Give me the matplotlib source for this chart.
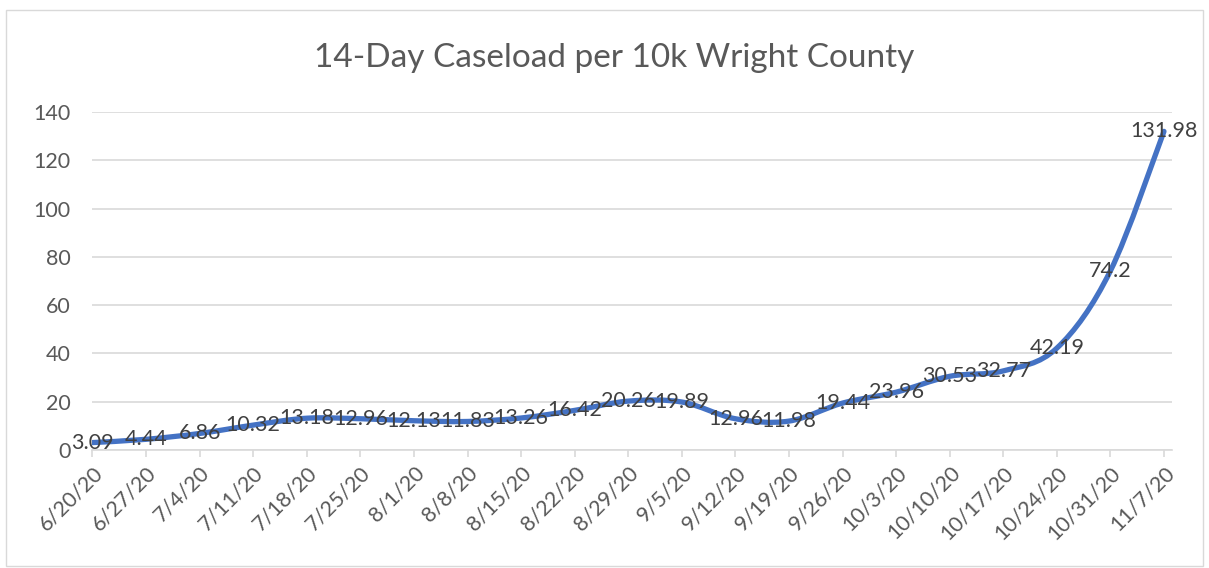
import matplotlib
matplotlib.use("Agg")
import matplotlib.pyplot as plt
import numpy as np
from matplotlib.path import Path
from matplotlib.patches import PathPatch, Rectangle

# 14-day caseload per 10k, Wright County
dates = ['6/20/20', '6/27/20', '7/4/20', '7/11/20', '7/18/20', '7/25/20', '8/1/20',
         '8/8/20', '8/15/20', '8/22/20', '8/29/20', '9/5/20', '9/12/20', '9/19/20',
         '9/26/20', '10/3/20', '10/10/20', '10/17/20', '10/24/20', '10/31/20', '11/7/20']
caseload = [3.09, 4.44, 6.86, 10.32, 13.18, 12.96, 12.13, 11.83, 13.26, 16.42, 20.26,
            19.89, 12.96, 11.98, 19.44, 23.96, 30.53, 32.77, 42.19, 74.2, 131.98]
y_ticks = [0, 20, 40, 60, 80, 100, 120, 140]

plt.rcParams['font.family'] = ['Lato', 'DejaVu Sans']

fig = plt.figure(figsize=(12.09, 5.68), dpi=100)
ax = fig.add_axes([0.0765, 0.2077, 0.9694 - 0.0765, 0.8028 - 0.2077])

# smoothed line like Excel: cubic bezier segments through every point
x = np.arange(len(caseload), dtype=float)
y = np.array(caseload)
verts = [(x[0], y[0])]
codes = [Path.MOVETO]
for i in range(len(x) - 1):
    p0 = np.array([x[max(i - 1, 0)], y[max(i - 1, 0)]])
    p1 = np.array([x[i], y[i]])
    p2 = np.array([x[i + 1], y[i + 1]])
    p3 = np.array([x[min(i + 2, len(x) - 1)], y[min(i + 2, len(x) - 1)]])
    c1 = p1 + (p2 - p0) / 6.0
    c2 = p2 - (p3 - p1) / 6.0
    verts += [tuple(c1), tuple(c2), tuple(p2)]
    codes += [Path.CURVE4, Path.CURVE4, Path.CURVE4]
ax.add_patch(PathPatch(Path(verts, codes), facecolor='none', edgecolor='#4472C4',
                       linewidth=3.8, capstyle='round', joinstyle='round', zorder=3))

for xi, yi in zip(x, caseload):
    ax.text(xi, yi, f'{yi:g}', ha='center', va='center', fontsize=15.5,
            color='#404040', zorder=4)

ax.set_xlim(0, 20.15)
ax.set_ylim(0, 140)
ax.set_yticks(y_ticks)
ax.set_xticks(x)
ax.set_xticklabels(dates, rotation=45, ha='right', rotation_mode='anchor')
ax.yaxis.grid(True, color='#D9D9D9', linewidth=1.2)
ax.set_axisbelow(True)
for s in ['top', 'right', 'left']:
    ax.spines[s].set_visible(False)
ax.spines['bottom'].set_color('#D9D9D9')
ax.spines['bottom'].set_linewidth(1.2)
ax.tick_params(axis='x', length=5, width=1.2, color='#D9D9D9', labelsize=15.5,
               labelcolor='#595959', pad=4)
ax.tick_params(axis='y', length=0, labelsize=15.5, labelcolor='#595959', pad=16)

fig.text(0.508, 0.898, '14-Day Caseload per 10k Wright County', ha='center',
         va='center', fontsize=24, color='#595959')

fig.patches.append(Rectangle((0.005, 0.004), 0.99, 0.978, transform=fig.transFigure,
                             fill=False, edgecolor='#D9D9D9', linewidth=1.0))

fig.savefig('out.png', dpi=100)
